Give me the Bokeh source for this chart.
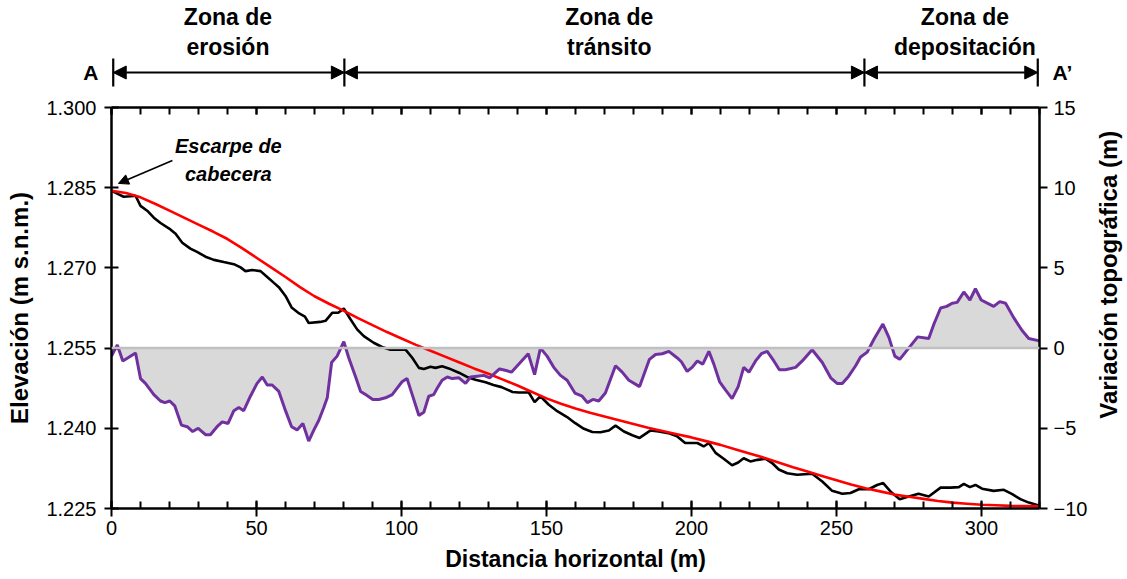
import math
from bokeh.plotting import figure
from bokeh.models import Range1d, LinearAxis, FixedTicker, Span, Arrow, NormalHead
from bokeh.layouts import column, row
from bokeh.core.properties import value
from bokeh.embed import file_html
from bokeh.resources import INLINE

# ---------------- data ----------------
dist_profile = [0, 2.3, 4.2, 6.6, 8.3, 10, 12.3, 14.6, 16.9, 20.3, 22.1, 24.4, 27.2, 29.5, 32.4, 35.3,
                38.7, 42.2, 44.5, 46.2, 48.5, 51.4, 53.7, 56, 57.7, 60, 62.1, 64.4, 66.7, 68, 72, 73.8,
                76.1, 78.2, 80.1, 82.4, 84.7, 87, 90.4, 93.3, 96.2, 101.4, 103.7, 106, 107.7, 110, 111.7,
                114, 116.3, 119.8, 122.6, 125.5, 129, 131.7, 134.5, 138.3, 140.4, 143.9, 145.9, 147.9,
                150.8, 153.7, 157.1, 159.8, 162.9, 165.8, 168.6, 171.5, 173.8, 176.7, 179.6, 182.1,
                185.9, 188.7, 192, 195, 197.8, 202, 204.2, 206, 208.3, 211.1, 214, 216.1, 218, 220.3,
                222.7, 225.5, 227.8, 230.1, 233, 236.4, 241.6, 245.1, 248.5, 252, 254.8, 257.7, 261.1,
                264, 266.1, 268.6, 271.8, 274.9, 278.3, 281.8, 285.9, 289.3, 292.2, 293.9, 296, 297.9,
                300.2, 304.2, 307.7, 310.6, 313.4, 316.3, 320]
elev_profile = [1284.4, 1283.8, 1283.3, 1283.4, 1283.5, 1281.6, 1280.7, 1279.4, 1278.4, 1277.2, 1276.4,
                1274.7, 1273.6, 1273.0, 1272.1, 1271.5, 1271.1, 1270.7, 1270.1, 1269.4, 1269.6, 1269.4,
                1268.3, 1267.2, 1266.4, 1264.75, 1262.6, 1261.6, 1260.9, 1259.7, 1259.9, 1260.1, 1261.6,
                1261.6, 1262.4, 1260.4, 1258.5, 1257.25, 1256.0, 1255.2, 1254.7, 1254.7, 1253.2, 1251.3,
                1251.1, 1251.5, 1251.3, 1251.6, 1251.2, 1250.4, 1249.6, 1249.1, 1248.6, 1248.1, 1247.7,
                1246.8, 1246.7, 1246.7, 1244.9, 1246.0, 1244.4, 1243.2, 1242.1, 1241.0, 1239.9, 1239.3,
                1239.25, 1239.6, 1240.5, 1239.4, 1238.7, 1238.2, 1239.6, 1239.4, 1239.1, 1238.5, 1237.25,
                1237.25, 1236.6, 1237.25, 1235.4, 1234.3, 1233.1, 1233.6, 1234.4, 1233.8, 1234.1, 1234.3,
                1233.5, 1232.3, 1231.6, 1231.3, 1231.5, 1230.05, 1228.3, 1227.75, 1227.9, 1228.6, 1228.6,
                1229.4, 1229.75, 1228.2, 1226.75, 1227.25, 1227.75, 1227.25, 1228.9, 1228.9, 1229.0,
                1229.6, 1229.0, 1229.4, 1228.7, 1228.3, 1228.5, 1227.7, 1226.75, 1226.1, 1225.5]

dist_fit = [0, 5, 10, 15, 20, 25, 30, 35, 40, 45, 50, 55, 60, 65, 70, 75, 80, 85, 90, 95, 100, 105, 110,
            115, 120, 125, 130, 135, 140, 145, 150, 155, 160, 165, 170, 175, 180, 185, 190, 195, 200, 205,
            210, 215, 220, 225, 230, 235, 240, 245, 250, 255, 260, 265, 270, 275, 280, 285, 290, 295, 300,
            305, 310, 315, 320]
elev_fit = [1284.4, 1284.0, 1283.2, 1282.0, 1280.7, 1279.4, 1278.1, 1276.8, 1275.4, 1273.7, 1271.9,
            1270.1, 1268.3, 1266.4, 1264.7, 1263.3, 1262.0, 1260.6, 1259.3, 1258.0, 1256.8, 1255.6,
            1254.5, 1253.4, 1252.3, 1251.2, 1250.2, 1249.1, 1248.0, 1246.8, 1245.6, 1244.6, 1243.7,
            1242.9, 1242.2, 1241.5, 1240.8, 1240.1, 1239.5, 1238.9, 1238.3, 1237.6, 1236.9, 1236.1,
            1235.3, 1234.5, 1233.6, 1232.7, 1231.9, 1231.1, 1230.3, 1229.5, 1228.8, 1228.2, 1227.6,
            1227.2, 1226.8, 1226.4, 1226.1, 1225.9, 1225.7, 1225.6, 1225.5, 1225.45, 1225.4]

dist_var = [0, 2.0, 3.9, 5.7, 8.3, 10, 11.7, 14.6, 16.9, 18.4, 20.1, 21.8, 24.1, 26.1, 28, 29.9, 32.4,
            34.1, 36.4, 38.2, 40.2, 42.2, 43.9, 45.6, 47.9, 50.2, 52, 53.7, 55.4, 57.7, 60, 62.1, 64,
            66, 68, 69.8, 71.5, 73.2, 74.4, 75.9, 77.8, 80.1, 81.8, 84.1, 85.9, 87.6, 90.1, 92.2, 94.5,
            96.8, 98.5, 100.2, 101.9, 103.7, 106, 107.7, 109.4, 111.1, 112.3, 114, 115.8, 117.5, 119.8,
            122.1, 123.8, 126.1, 128.4, 130.4, 133.8, 136.1, 137.9, 140.4, 143.7, 145.9, 147.9, 150.2,
            152.5, 154.8, 157.1, 159.8, 162.3, 164.1, 166, 168, 170.3, 173.8, 176.1, 178.4, 182.1,
            185.5, 187.6, 189.9, 192.2, 195, 196.5, 198.5, 200.2, 202, 203.9, 206, 207.7, 209.7, 211.7,
            214, 216.1, 218, 219.8, 222.1, 224.1, 226.1, 228.4, 230.3, 232.4, 235.9, 238.2, 241.6,
            245.1, 248, 250.2, 252, 254.2, 256.6, 258.3, 260.6, 262.9, 266, 268.1, 270.1, 271.8, 274.9,
            278, 281.8, 283.6, 285.9, 288, 289.9, 291.6, 293.9, 296, 297.9, 299.9, 302, 304.2, 306.3,
            308.3, 311.1, 314, 316.3, 320]
var_topo = [-0.5, 0.2, -0.8, -0.6, -0.3, -1.9, -2.2, -2.9, -3.3, -3.4, -3.3, -3.6, -4.8, -4.9, -5.2, -5.0,
            -5.4, -5.4, -4.9, -4.6, -4.7, -3.9, -3.7, -3.9, -3.0, -2.2, -1.8, -2.3, -2.3, -2.7, -3.9, -4.9,
            -5.1, -4.7, -5.8, -5.1, -4.5, -3.7, -3.1, -0.9, -0.5, 0.4, -0.6, -1.75, -2.7, -2.9, -3.2, -3.2,
            -3.1, -2.9, -2.5, -2.1, -1.9, -2.9, -4.2, -4.0, -3.0, -2.9, -2.5, -2.0, -1.8, -1.9, -1.85,
            -2.2, -1.8, -1.75, -1.7, -1.85, -1.3, -1.4, -1.5, -1.0, -0.35, -1.65, 0.0, -0.5, -1.2, -1.7,
            -2.0, -2.8, -3.0, -3.4, -3.2, -3.3, -2.8, -1.1, -1.5, -2.0, -2.4, -0.7, -0.4, -0.35, -0.2,
            -0.6, -0.85, -1.45, -1.2, -0.8, -1.0, -0.2, -1.0, -2.1, -2.6, -3.15, -2.4, -1.2, -1.5, -0.8,
            -0.35, -0.2, -0.8, -1.35, -1.35, -1.2, -0.8, -0.1, -0.9, -1.85, -2.2, -2.2, -1.75, -1.1,
            -0.55, -0.25, 0.55, 1.5, 0.65, -0.5, -0.7, 0.0, 0.7, 0.6, 1.5, 2.5, 2.6, 2.8, 2.85, 3.5, 3.0,
            3.7, 3.0, 2.8, 2.6, 2.9, 2.8, 1.9, 1.1, 0.6, 0.45]

x_ticks = [0, 50, 100, 150, 200, 250, 300]
elev_ticks = [1225, 1240, 1255, 1270, 1285, 1300]
var_ticks = [-10, -5, 0, 5, 10, 15]

zone_edges = [0, 80, 260, 320]
zone_names = ["Zona de\nerosión", "Zona de\ntránsito", "Zona de\ndepositación"]
section_names = ["A", "A’"]
escarpe_text = "Escarpe de\ncabecera"
right_title = "Variación topográfica (m)"

# ---------------- layout / style ----------------
FONT = "Liberation Sans"
W = 1127
LEFT, RIGHT = 111, 88
SIDE_W = 36             # strip holding the right-hand axis title
TOP_H = 97              # strip with the zone arrows
MAIN_H = 482            # frame top at 107, bottom at 508
minor_x = list(range(zone_edges[0], zone_edges[-1] + 1, 10))

# --- top strip (same frame columns as the main plot) ---
pad = 0.6
top = figure(width=W, height=TOP_H, output_backend="svg", toolbar_location=None,
             x_range=Range1d(zone_edges[0] - pad, zone_edges[-1] + pad), y_range=Range1d(0, TOP_H),
             min_border_left=LEFT, min_border_right=RIGHT, min_border_top=0, min_border_bottom=0,
             x_axis_location=None, y_axis_location=None)
top.grid.visible = False
top.outline_line_color = None

arrow_y = TOP_H - 72
top.segment(x0=zone_edges, y0=[TOP_H - 86] * len(zone_edges), x1=zone_edges,
            y1=[TOP_H - 58] * len(zone_edges), line_color="black", line_width=2.2)
for a, b in zip(zone_edges[:-1], zone_edges[1:]):
    top.add_layout(Arrow(x_start=a, x_end=b, y_start=arrow_y, y_end=arrow_y, line_width=2,
                         start=NormalHead(size=13, fill_color="black", line_color="black"),
                         end=NormalHead(size=13, fill_color="black", line_color="black")))
label_shift = [-0.3, 1.7, 4.8]
mids = [(a + b) / 2 + s for a, b, s in zip(zone_edges[:-1], zone_edges[1:], label_shift)]
top.text(x=mids, y=[TOP_H - 31.5] * len(mids), text=zone_names, text_align="center",
         text_baseline="middle", text_font=value(FONT), text_font_size="23px", text_font_style="bold",
         text_line_height=1.13)

for side, name, standoff in (("left", section_names[0], 13), ("right", section_names[1], 13)):
    ax = LinearAxis(ticker=FixedTicker(ticks=[arrow_y], minor_ticks=[]))
    ax.major_label_overrides = {arrow_y: name}
    ax.axis_line_color = None
    ax.major_tick_line_color = None
    ax.major_tick_in = ax.major_tick_out = 0
    ax.major_label_standoff = standoff
    ax.major_label_text_font = FONT
    ax.major_label_text_font_size = "21px"
    ax.major_label_text_font_style = "bold"
    ax.major_label_text_color = "black"
    top.add_layout(ax, side)

# --- main plot ---
p = figure(width=W - SIDE_W, height=MAIN_H, output_backend="svg", toolbar_location=None,
           x_range=Range1d(zone_edges[0], zone_edges[-1]), y_range=Range1d(elev_ticks[0], elev_ticks[-1]),
           min_border_left=LEFT, min_border_right=RIGHT - SIDE_W, min_border_top=10, min_border_bottom=71)
p.extra_y_ranges = {"var": Range1d(var_ticks[0], var_ticks[-1])}
p.grid.visible = False
p.outline_line_color = None

p.varea(x=dist_var, y1=0, y2=var_topo, y_range_name="var", fill_color="#d9d9d9")
p.add_layout(Span(location=0, dimension="width", y_range_name="var", line_color="#c0c0c0", line_width=2.5))
p.line(dist_profile, elev_profile, line_color="black", line_width=2.6)
p.line(dist_fit, elev_fit, line_color="#ff0000", line_width=2.6)
p.line(dist_var, var_topo, y_range_name="var", line_color="#7030a0", line_width=3)

p.text(x=[40.3], y=[1290.2], text=[escarpe_text], text_align="center", text_baseline="middle",
       text_font=value(FONT), text_font_size="20px", text_font_style="bold italic", text_line_height=1.25)
p.add_layout(Arrow(x_start=21, y_start=1290.1, x_end=2.4, y_end=1285.8, line_width=1.6,
                   end=NormalHead(size=10, fill_color="black", line_color="black")))


def style(ax, size="20px", title="24px"):
    ax.axis_line_width = 2.5
    ax.major_tick_line_width = 2
    ax.minor_tick_line_width = 2
    ax.major_label_text_font = FONT
    ax.major_label_text_font_size = size
    ax.major_label_text_color = "black"
    ax.axis_label_text_font = FONT
    ax.axis_label_text_font_size = title
    ax.axis_label_text_font_style = "bold"
    ax.axis_label_text_color = "black"


xa = p.xaxis[0]
xa.ticker = FixedTicker(ticks=x_ticks, minor_ticks=minor_x)
style(xa, title="23px")
xa.major_tick_in, xa.major_tick_out = 8, 8
xa.minor_tick_in, xa.minor_tick_out = 7, 0
xa.major_label_standoff = 4
xa.axis_label = "Distancia horizontal (m)"
xa.axis_label_standoff = 8

ya = p.yaxis[0]
ya.ticker = FixedTicker(ticks=elev_ticks, minor_ticks=[])
style(ya)
ya.major_tick_in, ya.major_tick_out = 7, 7
ya.major_label_standoff = 8
ya.major_label_overrides = {t: f"{t // 1000}.{t % 1000:03d}" for t in elev_ticks}
ya.axis_label = "Elevación (m s.n.m.)"
ya.axis_label_standoff = 10

ra = LinearAxis(y_range_name="var", ticker=FixedTicker(ticks=var_ticks, minor_ticks=[]))
style(ra)
ra.major_tick_in, ra.major_tick_out = 0, 8
ra.major_label_standoff = 6
p.add_layout(ra, "right")

ta = LinearAxis(ticker=FixedTicker(ticks=x_ticks, minor_ticks=minor_x))
ta.axis_line_width = 2.5
ta.major_tick_line_width = 2
ta.minor_tick_line_width = 2
ta.major_tick_in, ta.major_tick_out = 7, 0
ta.minor_tick_in, ta.minor_tick_out = 7, 0
ta.major_label_text_font_size = "2px"
ta.major_label_text_color = None
ta.major_label_standoff = 0
p.add_layout(ta, "above")

# --- right strip: title of the right-hand axis, reading bottom to top ---
side_fig = figure(width=SIDE_W, height=MAIN_H, output_backend="svg", toolbar_location=None,
                  x_range=Range1d(0, SIDE_W), y_range=Range1d(0, MAIN_H), min_border=0,
                  x_axis_location=None, y_axis_location=None)
side_fig.grid.visible = False
side_fig.outline_line_color = None
side_fig.text(x=[17], y=[MAIN_H - (298 - TOP_H)], text=[right_title], angle=math.pi / 2,
              text_align="center", text_baseline="middle", text_font=value(FONT),
              text_font_size="24px", text_font_style="bold", text_color="black")

layout = column(top, row(p, side_fig, spacing=0), spacing=0)
open("out.html", "w").write(file_html(layout, INLINE))
